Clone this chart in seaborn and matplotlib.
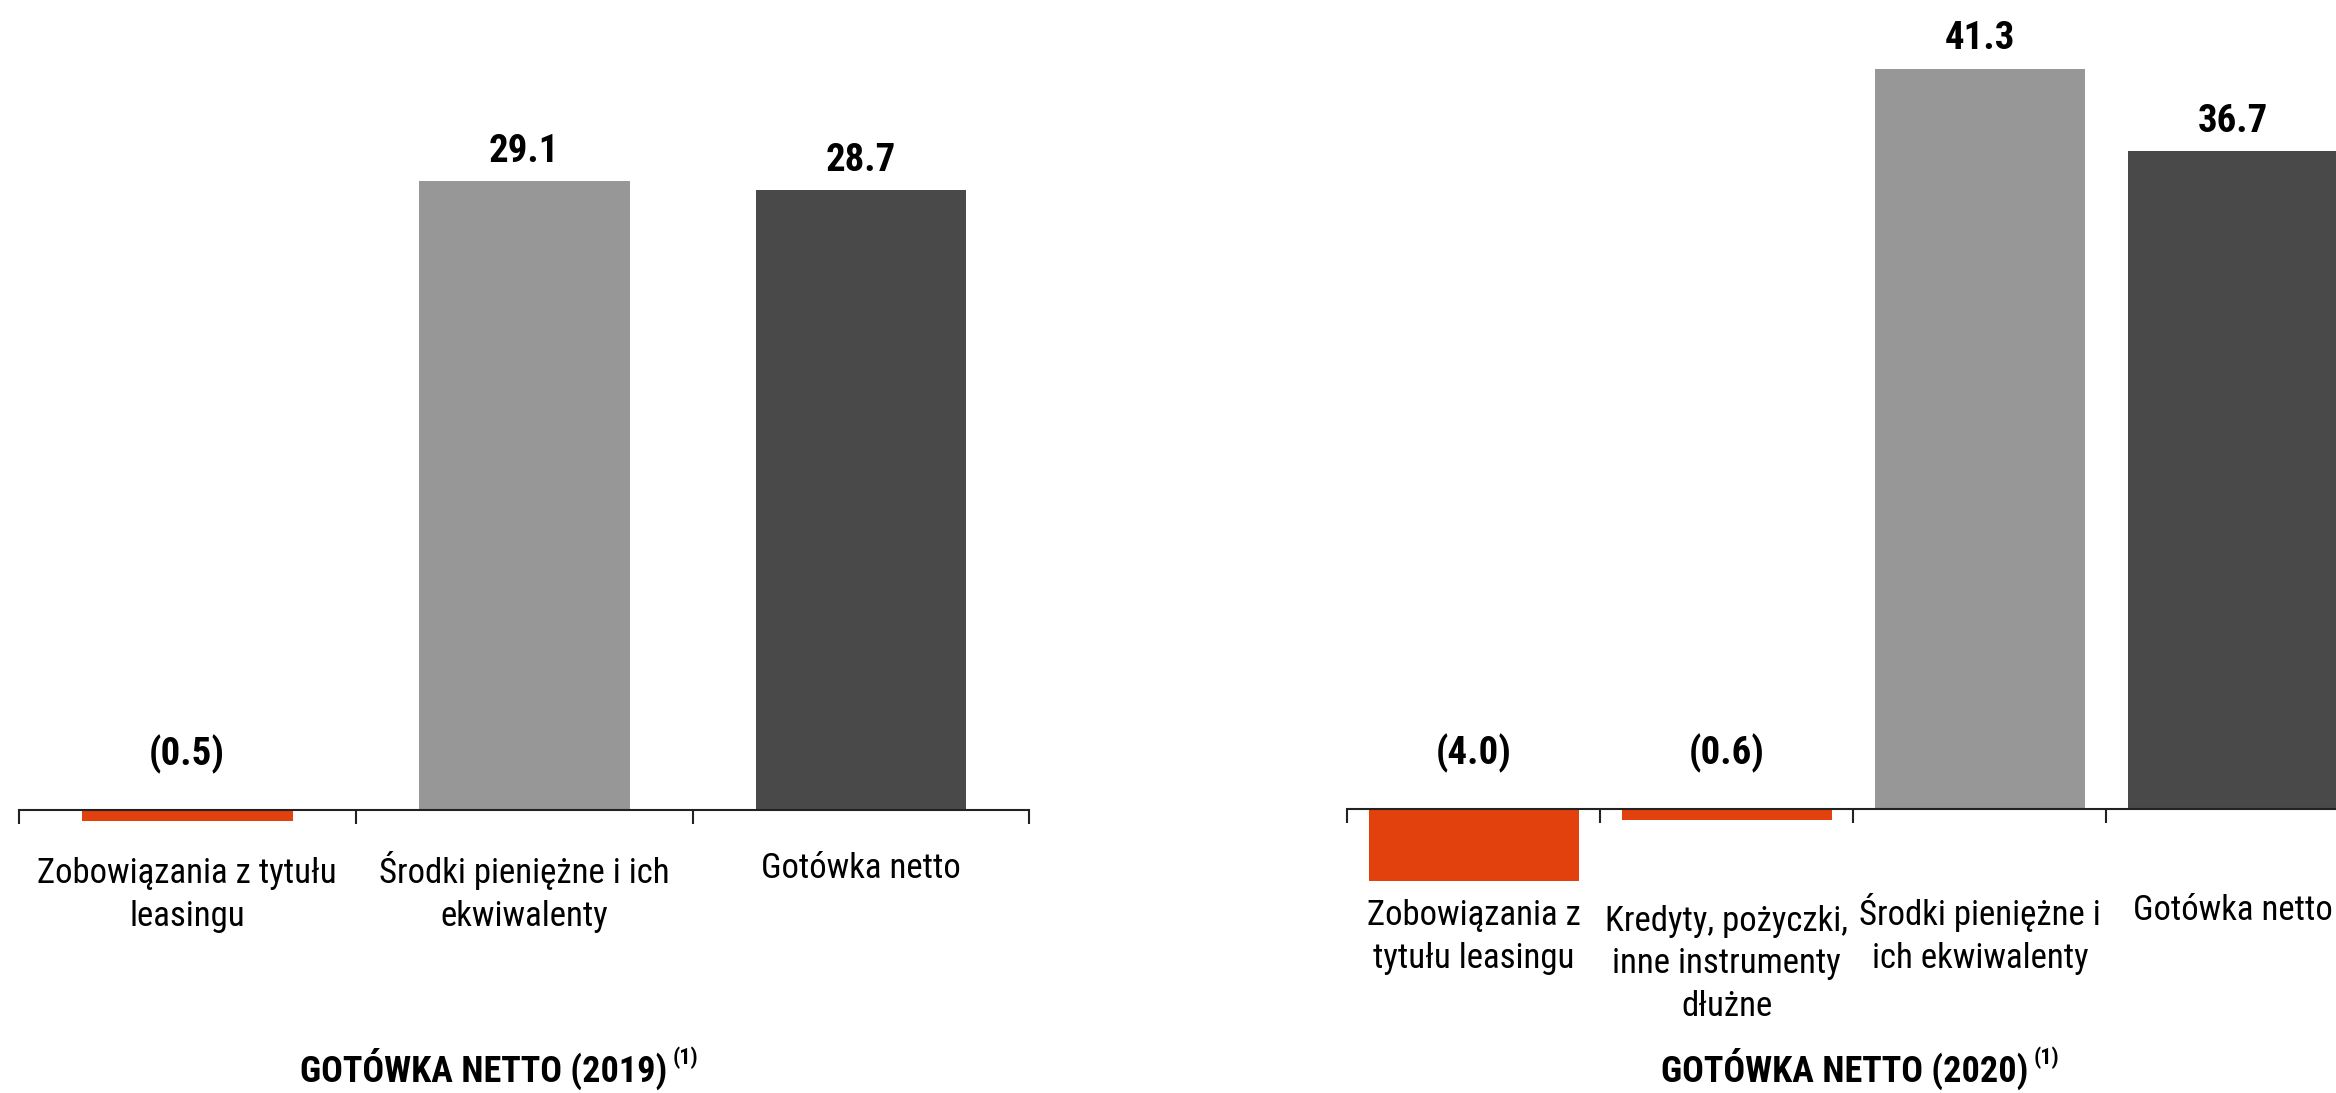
import os
import re

import numpy as np
import pandas as pd
import matplotlib
matplotlib.use("Agg")
import matplotlib.pyplot as plt
from matplotlib import font_manager as fm
import seaborn as sns

# ---- data -------------------------------------------------------------
left_categories = [
    "Zobowiązania z tytułu leasingu",
    "Środki pieniężne i ich ekwiwalenty",
    "Gotówka netto",
]
left_values = [-0.5, 29.1, 28.7]
left_tick_labels = [
    "Zobowiązania z tytułu\nleasingu",
    "Środki pieniężne i ich\nekwiwalenty",
    "Gotówka netto",
]
left_title = "GOTÓWKA NETTO (2019)"

right_categories = [
    "Zobowiązania z tytułu leasingu",
    "Kredyty, pożyczki, inne instrumenty dłużne",
    "Środki pieniężne i ich ekwiwalenty",
    "Gotówka netto",
]
right_values = [-4.0, -0.6, 41.3, 36.7]
right_tick_labels = [
    "Zobowiązania z\ntytułu leasingu",
    "Kredyty, pożyczki,\ninne instrumenty\ndłużne",
    "Środki pieniężne i\nich ekwiwalenty",
    "Gotówka netto",
]
right_title = "GOTÓWKA NETTO (2020)"
footnote_mark = "(1)"

ORANGE = "#E2400C"
GREY = "#979797"
DARK = "#494949"
left_colors = [ORANGE, GREY, DARK]
right_colors = [ORANGE, ORANGE, GREY, DARK]

# ---- fonts: pick the narrowest installed sans -------------------------
def find_font(patterns):
    paths = {os.path.basename(f.fname).lower(): f.fname for f in fm.fontManager.ttflist}
    for pat in patterns:
        for base in sorted(paths):
            if re.fullmatch(pat, base):
                return paths[base]
    return None


regular_path = find_font([
    r"notosans-?extracondensed(-regular)?\.(ttf|otf)",
    r"roboto_?condensed-regular\.(ttf|otf)",
    r"notosans-?condensed(-regular)?\.(ttf|otf)",
    r"dejavusanscondensed\.(ttf|otf)",
    r"liberationsansnarrow-regular\.(ttf|otf)",
])
bold_path = find_font([
    r"notosans-?extracondensed-?bold\.(ttf|otf)",
    r"roboto_?condensed-bold\.(ttf|otf)",
    r"notosans-?condensed-?bold\.(ttf|otf)",
    r"dejavusanscondensed-bold\.(ttf|otf)",
    r"liberationsansnarrow-bold\.(ttf|otf)",
])


def font(path, size, weight):
    if path:
        return fm.FontProperties(fname=path, size=size)
    return fm.FontProperties(family=["Liberation Sans", "DejaVu Sans"],
                             size=size, weight=weight, stretch="condensed")


tick_font = font(regular_path, 25, "normal")
value_font = font(bold_path, 28, "bold")
title_font = font(bold_path, 26, "bold")
sup_font = font(bold_path, 16, "bold")

# ---- figure -----------------------------------------------------------
W, H = 2336, 1093
PX_TO_PT = 72 / 100
LINE_GAP_PX = 48
sns.set_style("white")
fig = plt.figure(figsize=(W / 100, H / 100), dpi=100)
fig.patch.set_facecolor("white")
AXIS_COLOR = "#222222"


def draw_panel(categories, values, tick_labels, colors, x0, x1, base_y,
               px_per_unit, bar_width, first_baseline_px):
    ax = fig.add_axes([x0 / W, 0, (x1 - x0) / W, 1])
    ax.set_facecolor("none")
    df = pd.DataFrame({"category": categories, "value": values})
    sns.barplot(data=df, x="category", y="value", hue="category",
                order=categories, hue_order=categories,
                palette=dict(zip(categories, colors)), saturation=1,
                width=bar_width, linewidth=0, errorbar=None, legend=False,
                ax=ax)
    n = len(categories)
    ax.set_xlim(-0.5, n - 0.5)
    ax.set_ylim(-(H - base_y) / px_per_unit, base_y / px_per_unit)

    for side in ("left", "right", "top"):
        ax.spines[side].set_visible(False)
    ax.spines["bottom"].set_position(("data", 0))
    ax.spines["bottom"].set_color(AXIS_COLOR)
    ax.spines["bottom"].set_linewidth(1.5)
    ax.set_yticks([])
    ax.set_xlabel("")
    ax.set_ylabel("")

    ax.set_xticks(np.arange(n))
    ax.set_xticklabels(tick_labels, fontproperties=tick_font,
                       linespacing=1.375, color="black")
    ax.set_xticks(np.arange(n + 1) - 0.5, minor=True)
    ax.tick_params(axis="x", which="major", length=0, bottom=True)
    ax.tick_params(axis="x", which="minor", length=10, width=1.5,
                   direction="out", color=AXIS_COLOR, bottom=True)
    # labels hang from the baseline of their last line; pad each one so
    # that all first lines share one baseline
    for tick, text in zip(ax.xaxis.get_major_ticks(), tick_labels):
        extra = text.count("\n") * LINE_GAP_PX
        tick.set_pad((first_baseline_px + extra) * PX_TO_PT)
    for lab in ax.get_xticklabels():
        lab.set_verticalalignment("baseline")

    for i, v in enumerate(values):
        if v < 0:
            ax.annotate(f"({abs(v):.1f})", xy=(i, 0), xytext=(0, 32),
                        textcoords="offset points", ha="center",
                        va="baseline", fontproperties=value_font,
                        color="black")
        else:
            ax.annotate(f"{v:.1f}", xy=(i, v), xytext=(0, 14),
                        textcoords="offset points", ha="center",
                        va="baseline", fontproperties=value_font,
                        color="black")
    return ax


ax_left = draw_panel(left_categories, left_values, left_tick_labels,
                     left_colors, 18.75, 1029.5, 810, 21.6, 0.626, 68)
ax_right = draw_panel(right_categories, right_values, right_tick_labels,
                      right_colors, 1347, 2359.5, 809, 17.92, 0.83, 111)


def panel_title(ax, text, cx):
    t = fig.text(cx / W, 11 / H, text, ha="center", va="baseline",
                 fontproperties=title_font, color="black")
    ax.annotate(footnote_mark, xy=(1, 29), xycoords=(t, "figure pixels"),
                xytext=(4, 0), textcoords="offset points", ha="left",
                va="baseline", fontproperties=sup_font, color="black",
                annotation_clip=False)


panel_title(ax_left, left_title, 483.5)
panel_title(ax_right, right_title, 1844.5)

fig.savefig("out.png", dpi=100, facecolor="white")
